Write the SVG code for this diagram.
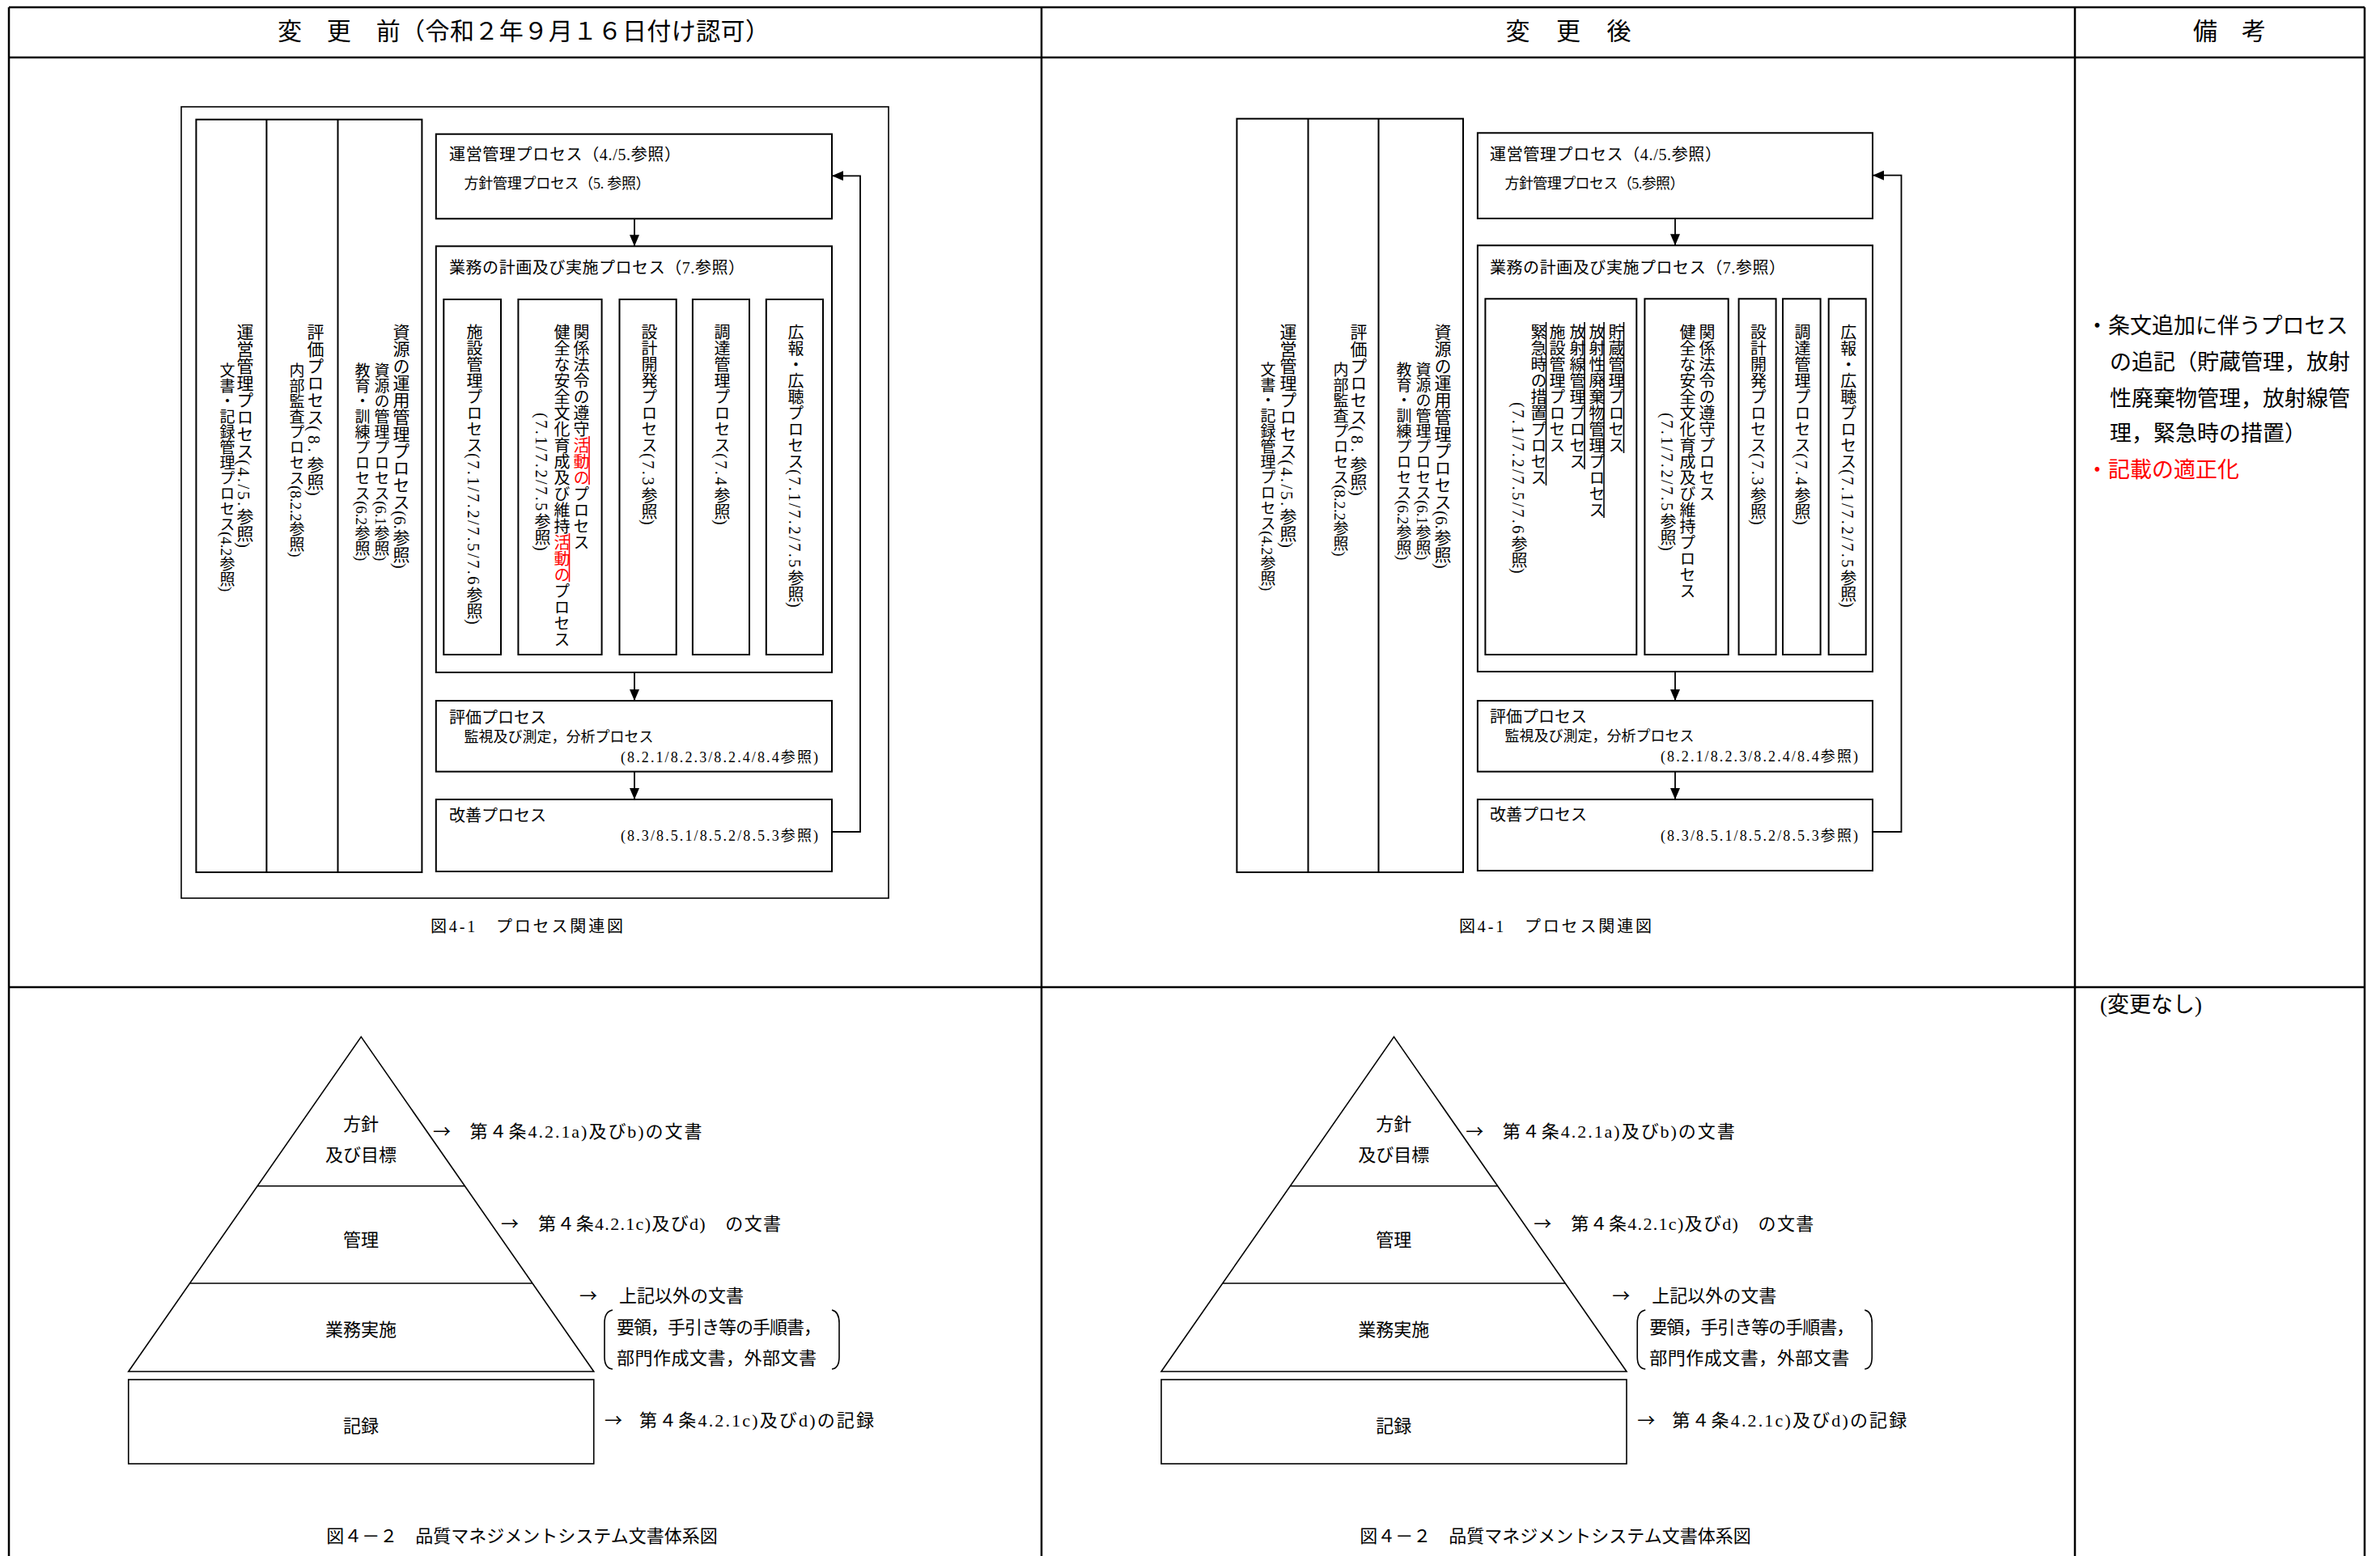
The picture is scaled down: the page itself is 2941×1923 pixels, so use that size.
<svg xmlns="http://www.w3.org/2000/svg" width="2941" height="1923" viewBox="0 0 2941 1923">
<style>
text{font-family:"Liberation Serif","Noto Sans CJK JP",serif;fill:#000}
.ar{font-family:"Noto Sans CJK JP",sans-serif}
.tb{fill:none;stroke:#000;stroke-width:2.5}
.bx{fill:#fff;stroke:#000;stroke-width:2}
.fr{fill:none;stroke:#000;stroke-width:1.6}
.ln{fill:none;stroke:#000;stroke-width:1.6}
.cn{fill:none;stroke:#000;stroke-width:1.8}
.v{writing-mode:vertical-rl}
.n{letter-spacing:2.6px}
.m21{font-size:21px}
.s19{font-size:19px}
.s20{font-size:20px}
.red{fill:#ff0000}
.rl{stroke:#ff0000;stroke-width:1.6}
.bl{stroke:#000;stroke-width:1.6}
.h{font-size:30px}
.t20{font-size:20px}
.t18{font-size:18px}
.t22{font-size:22px}
.rm{font-size:27px}
</style>
<defs>
<marker id="ah" markerUnits="userSpaceOnUse" markerWidth="14" markerHeight="12" refX="14" refY="6" orient="auto">
<path d="M0,0 L14,6 L0,12 z" fill="#000"/>
</marker>
</defs>

<!-- table -->
<g id="table">
<line class="tb" x1="11" y1="9" x2="2922" y2="9"/>
<line class="tb" x1="11" y1="71" x2="2922" y2="71"/>
<line class="tb" x1="11" y1="1220" x2="2922" y2="1220"/>
<line class="tb" x1="11" y1="9" x2="11" y2="1923"/>
<line class="tb" x1="1287" y1="9" x2="1287" y2="1923"/>
<line class="tb" x1="2564" y1="9" x2="2564" y2="1923"/>
<line class="tb" x1="2922" y1="9" x2="2922" y2="1923"/>
<text class="h" x="647" y="49" text-anchor="middle" textLength="608" lengthAdjust="spacing">変　更　前（令和２年９月１６日付け認可）</text>
<text class="h" x="1938" y="49" text-anchor="middle" textLength="155" lengthAdjust="spacing">変　更　後</text>
<text class="h" x="2755" y="49" text-anchor="middle">備　考</text>
</g>

<!-- ===== BEFORE: process diagram ===== -->
<g id="before-frame"><rect class="fr" x="224" y="132" width="874" height="978"/></g>

<g id="before-leftcols">
<rect class="bx" x="242.4" y="147.7" width="279" height="930.3"/>
<line class="bx" x1="329.4" y1="147.7" x2="329.4" y2="1078"/>
<line class="bx" x1="417.5" y1="147.7" x2="417.5" y2="1078"/>
<text class="v m21" x="301" y="400">運営管理プロセス<tspan class="n">(4./5.</tspan>参照)</text>
<text class="v s19" x="279" y="448">文書・記録管理プロセス(4.2参照)</text>
<text class="v m21" x="388" y="400">評価プロセス<tspan style="letter-spacing:5px">(8.</tspan>参照)</text>
<text class="v s19" x="365" y="448">内部監査プロセス(8.2.2参照)</text>
<text class="v m21" x="494" y="400">資源の運用管理プロセス(6.参照)</text>
<text class="v s19" x="470" y="448">資源の管理プロセス(6.1参照)</text>
<text class="v s19" x="446" y="448">教育・訓練プロセス(6.2参照)</text>
</g>

<g id="before-mgmt">
<rect class="bx" x="538.8" y="165.7" width="489.2" height="104.6"/>
<text class="t20" x="555" y="198" textLength="286" lengthAdjust="spacing">運営管理プロセス（4./5.参照）</text>
<text class="t18" x="573.6" y="233" textLength="230" lengthAdjust="spacing">方針管理プロセス（5. 参照）</text>
</g>

<g id="before-ops">
<rect class="bx" x="538.8" y="304.3" width="489.2" height="526.7"/>
<text class="t20" x="555" y="338" textLength="365" lengthAdjust="spacing">業務の計画及び実施プロセス（7.参照）</text>
</g>
<g id="before-facility">
<rect class="bx" x="548.3" y="370" width="70.7" height="439"/>
<text class="v s20" x="585" y="400">施設管理プロセス<tspan class="n">(7.1/7.2/7.5/7.6</tspan>参照)</text>
</g>
<g id="before-legal">
<rect class="bx" x="640.4" y="370" width="103.2" height="439"/>
<text class="v s20" x="717" y="400">関係法令の遵守<tspan class="red">活動の</tspan>プロセス</text>
<text class="v s20" x="693" y="400">健全な安全文化育成及び維持<tspan class="red">活動の</tspan>プロセス</text>
<text class="v s20" x="669" y="510"><tspan class="n">(7.1/7.2/7.5</tspan>参照)</text>
<line class="rl" x1="728" y1="539" x2="728" y2="599"/>
<line class="rl" x1="703.5" y1="659" x2="703.5" y2="719"/>
</g>
<g id="before-design">
<rect class="bx" x="765.5" y="370" width="70.2" height="439"/>
<text class="v s20" x="801" y="400">設計開発プロセス<tspan class="n">(7.3</tspan>参照)</text>
</g>
<g id="before-procure">
<rect class="bx" x="855.9" y="370" width="70.1" height="439"/>
<text class="v s20" x="891" y="400">調達管理プロセス<tspan class="n">(7.4</tspan>参照)</text>
</g>
<g id="before-pr">
<rect class="bx" x="946.8" y="370" width="70.2" height="439"/>
<text class="v s20" x="982" y="400">広報・広聴プロセス<tspan class="n">(7.1/7.2/7.5</tspan>参照)</text>
</g>

<g id="before-eval">
<rect class="bx" x="538.8" y="866" width="489.2" height="87.6"/>
<text class="t20" x="555" y="894">評価プロセス</text>
<text class="t18" x="573.6" y="917">監視及び測定，分析プロセス</text>
<text class="t18" x="1011" y="942" text-anchor="end" textLength="244" lengthAdjust="spacing">(8.2.1/8.2.3/8.2.4/8.4参照)</text>
</g>
<g id="before-improve">
<rect class="bx" x="538.8" y="988" width="489.2" height="89"/>
<text class="t20" x="555" y="1015">改善プロセス</text>
<text class="t18" x="1011" y="1039" text-anchor="end" textLength="244" lengthAdjust="spacing">(8.3/8.5.1/8.5.2/8.5.3参照)</text>
</g>

<g id="before-connectors">
<line class="cn" x1="784" y1="270.3" x2="784" y2="304.3" marker-end="url(#ah)"/>
<line class="cn" x1="784" y1="831" x2="784" y2="866" marker-end="url(#ah)"/>
<line class="cn" x1="784" y1="953.6" x2="784" y2="988" marker-end="url(#ah)"/>
<path class="cn" d="M1028,1028 H1063 V217.3 H1028" marker-end="url(#ah)"/>
</g>
<text class="t20" x="651" y="1152" text-anchor="middle" textLength="238" lengthAdjust="spacing">図4-1　プロセス関連図</text>

<!-- ===== AFTER: process diagram ===== -->
<g id="after-leftcols">
<rect class="bx" x="1528.4" y="146.7" width="279.6" height="931.3"/>
<line class="bx" x1="1616.5" y1="146.7" x2="1616.5" y2="1078"/>
<line class="bx" x1="1703.5" y1="146.7" x2="1703.5" y2="1078"/>
<text class="v m21" x="1590" y="400">運営管理プロセス<tspan class="n">(4./5.</tspan>参照)</text>
<text class="v s19" x="1565" y="447">文書・記録管理プロセス(4.2参照)</text>
<text class="v m21" x="1677" y="400">評価プロセス<tspan style="letter-spacing:5px">(8.</tspan>参照)</text>
<text class="v s19" x="1655" y="447">内部監査プロセス(8.2.2参照)</text>
<text class="v m21" x="1781" y="400">資源の運用管理プロセス(6.参照)</text>
<text class="v s19" x="1757" y="447">資源の管理プロセス(6.1参照)</text>
<text class="v s19" x="1733" y="447">教育・訓練プロセス(6.2参照)</text>
</g>

<g id="after-mgmt">
<rect class="bx" x="1825.9" y="164.3" width="488.1" height="105.7"/>
<text class="t20" x="1841" y="198" textLength="286" lengthAdjust="spacing">運営管理プロセス（4./5.参照）</text>
<text class="t18" x="1859.5" y="233" textLength="222" lengthAdjust="spacing">方針管理プロセス（5.参照）</text>
</g>

<g id="after-ops">
<rect class="bx" x="1825.9" y="303.3" width="488.1" height="526.7"/>
<text class="t20" x="1841" y="338" textLength="365" lengthAdjust="spacing">業務の計画及び実施プロセス（7.参照）</text>
</g>
<g id="after-facility">
<rect class="bx" x="1835.4" y="369.3" width="186.9" height="439.7"/>
<text class="v s20" x="1996" y="400">貯蔵管理プロセス</text>
<text class="v s20" x="1972" y="400">放射性廃棄物管理プロセス</text>
<text class="v s20" x="1948" y="400">放射線管理プロセス</text>
<text class="v s20" x="1923" y="400">施設管理プロセス</text>
<text class="v s20" x="1900" y="400">緊急時の措置プロセス</text>
<text class="v s20" x="1876" y="497"><tspan class="n">(7.1/7.2/7.5/7.6</tspan>参照)</text>
<line class="bl" x1="2006.5" y1="398" x2="2006.5" y2="560"/>
<line class="bl" x1="1982" y1="398" x2="1982" y2="640"/>
<line class="bl" x1="1958" y1="398" x2="1958" y2="580"/>
<line class="bl" x1="1910.5" y1="398" x2="1910.5" y2="600"/>
</g>
<g id="after-legal">
<rect class="bx" x="2032.4" y="369.3" width="103.3" height="439.7"/>
<text class="v s20" x="2108" y="400">関係法令の遵守プロセス</text>
<text class="v s20" x="2084" y="400">健全な安全文化育成及び維持プロセス</text>
<text class="v s20" x="2060" y="510"><tspan class="n">(7.1/7.2/7.5</tspan>参照)</text>
</g>
<g id="after-design">
<rect class="bx" x="2148.6" y="369.3" width="46" height="439.7"/>
<text class="v s20" x="2171.6" y="400">設計開発プロセス<tspan class="n">(7.3</tspan>参照)</text>
</g>
<g id="after-procure">
<rect class="bx" x="2203" y="369.3" width="46.6" height="439.7"/>
<text class="v s20" x="2226" y="400">調達管理プロセス<tspan class="n">(7.4</tspan>参照)</text>
</g>
<g id="after-pr">
<rect class="bx" x="2259.7" y="369.3" width="46" height="439.7"/>
<text class="v s20" x="2282.7" y="400">広報・広聴プロセス<tspan class="n">(7.1/7.2/7.5</tspan>参照)</text>
</g>

<g id="after-eval">
<rect class="bx" x="1825.9" y="866" width="488.1" height="87.6"/>
<text class="t20" x="1841" y="893">評価プロセス</text>
<text class="t18" x="1859.5" y="916">監視及び測定，分析プロセス</text>
<text class="t18" x="2296" y="941" text-anchor="end" textLength="244" lengthAdjust="spacing">(8.2.1/8.2.3/8.2.4/8.4参照)</text>
</g>
<g id="after-improve">
<rect class="bx" x="1825.9" y="988" width="488.1" height="88"/>
<text class="t20" x="1841" y="1014">改善プロセス</text>
<text class="t18" x="2296" y="1039" text-anchor="end" textLength="244" lengthAdjust="spacing">(8.3/8.5.1/8.5.2/8.5.3参照)</text>
</g>

<g id="after-connectors">
<line class="cn" x1="2070" y1="270" x2="2070" y2="303.3" marker-end="url(#ah)"/>
<line class="cn" x1="2070" y1="830" x2="2070" y2="866" marker-end="url(#ah)"/>
<line class="cn" x1="2070" y1="953.6" x2="2070" y2="988" marker-end="url(#ah)"/>
<path class="cn" d="M2314,1028 H2349.5 V216.7 H2314" marker-end="url(#ah)"/>
</g>
<text class="t20" x="1922" y="1152" text-anchor="middle" textLength="238" lengthAdjust="spacing">図4-1　プロセス関連図</text>

<!-- remarks -->
<g id="remarks">
<text class="rm" x="2578" y="412">・条文追加に伴うプロセス</text>
<text class="rm" x="2607" y="457">の追記（貯蔵管理，放射</text>
<text class="rm" x="2607" y="502">性廃棄物管理，放射線管</text>
<text class="rm" x="2607" y="545">理，緊急時の措置）</text>
<text class="rm red" x="2578" y="590">・記載の適正化</text>
<text class="rm" x="2595" y="1251">(変更なし)</text>
</g>

<!-- ===== BEFORE: pyramid ===== -->
<g id="before-pyramid">
<polygon class="ln" points="446.25,1281.4 733.75,1695 158.75,1695" fill="#fff"/>
<line class="ln" x1="318.1" y1="1465.7" x2="574.4" y2="1465.7"/>
<line class="ln" x1="234.5" y1="1586" x2="658" y2="1586"/>
<rect class="ln" x="158.75" y="1705" width="575" height="104"/>
<text class="t22" x="446" y="1397" text-anchor="middle">方針</text>
<text class="t22" x="446" y="1435" text-anchor="middle">及び目標</text>
<text class="t22" x="446" y="1540" text-anchor="middle">管理</text>
<text class="t22" x="446" y="1651" text-anchor="middle">業務実施</text>
<text class="t22" x="446" y="1770" text-anchor="middle">記録</text>
</g>
<g id="before-pyr-labels">
<text class="t22 ar" x="535" y="1406">→</text>
<text class="t22" x="580.6" y="1406" textLength="287" lengthAdjust="spacing">第４条4.2.1a)及びb)の文書</text>
<text class="t22 ar" x="619" y="1520">→</text>
<text class="t22" x="665" y="1520" textLength="300" lengthAdjust="spacing">第４条4.2.1c)及びd)　の文書</text>
<text class="t22 ar" x="716" y="1609">→</text>
<text class="t22" x="765" y="1609">上記以外の文書</text>
<text class="t22" x="762" y="1648" textLength="253" lengthAdjust="spacing">要領，手引き等の手順書，</text>
<text class="t22" x="762" y="1686" textLength="247" lengthAdjust="spacing">部門作成文書，外部文書</text>
<path class="ln" stroke-width="1.2" d="M757,1619 Q747,1621 747,1635 L747,1677 Q747,1691 757,1692"/>
<path class="ln" stroke-width="1.2" d="M1028,1619 Q1037,1621 1037,1635 L1037,1677 Q1037,1691 1028,1692"/>
<text class="t22 ar" x="747" y="1763">→</text>
<text class="t22" x="790" y="1763" textLength="290" lengthAdjust="spacing">第４条4.2.1c)及びd)の記録</text>
</g>
<text class="t22" x="645" y="1906" text-anchor="middle">図４－２　品質マネジメントシステム文書体系図</text>

<!-- ===== AFTER: pyramid ===== -->
<g id="after-pyramid" transform="translate(1276.25,0)">
<polygon class="ln" points="446.25,1281.4 733.75,1695 158.75,1695" fill="#fff"/>
<line class="ln" x1="318.1" y1="1465.7" x2="574.4" y2="1465.7"/>
<line class="ln" x1="234.5" y1="1586" x2="658" y2="1586"/>
<rect class="ln" x="158.75" y="1705" width="575" height="104"/>
<text class="t22" x="446" y="1397" text-anchor="middle">方針</text>
<text class="t22" x="446" y="1435" text-anchor="middle">及び目標</text>
<text class="t22" x="446" y="1540" text-anchor="middle">管理</text>
<text class="t22" x="446" y="1651" text-anchor="middle">業務実施</text>
<text class="t22" x="446" y="1770" text-anchor="middle">記録</text>
</g>
<g id="after-pyr-labels" transform="translate(1276.25,0)">
<text class="t22 ar" x="535" y="1406">→</text>
<text class="t22" x="580.6" y="1406" textLength="287" lengthAdjust="spacing">第４条4.2.1a)及びb)の文書</text>
<text class="t22 ar" x="619" y="1520">→</text>
<text class="t22" x="665" y="1520" textLength="300" lengthAdjust="spacing">第４条4.2.1c)及びd)　の文書</text>
<text class="t22 ar" x="716" y="1609">→</text>
<text class="t22" x="765" y="1609">上記以外の文書</text>
<text class="t22" x="762" y="1648" textLength="253" lengthAdjust="spacing">要領，手引き等の手順書，</text>
<text class="t22" x="762" y="1686" textLength="247" lengthAdjust="spacing">部門作成文書，外部文書</text>
<path class="ln" stroke-width="1.2" d="M757,1619 Q747,1621 747,1635 L747,1677 Q747,1691 757,1692"/>
<path class="ln" stroke-width="1.2" d="M1028,1619 Q1037,1621 1037,1635 L1037,1677 Q1037,1691 1028,1692"/>
<text class="t22 ar" x="747" y="1763">→</text>
<text class="t22" x="790" y="1763" textLength="290" lengthAdjust="spacing">第４条4.2.1c)及びd)の記録</text>
</g>
<text class="t22" x="1922" y="1906" text-anchor="middle">図４－２　品質マネジメントシステム文書体系図</text>
</svg>
